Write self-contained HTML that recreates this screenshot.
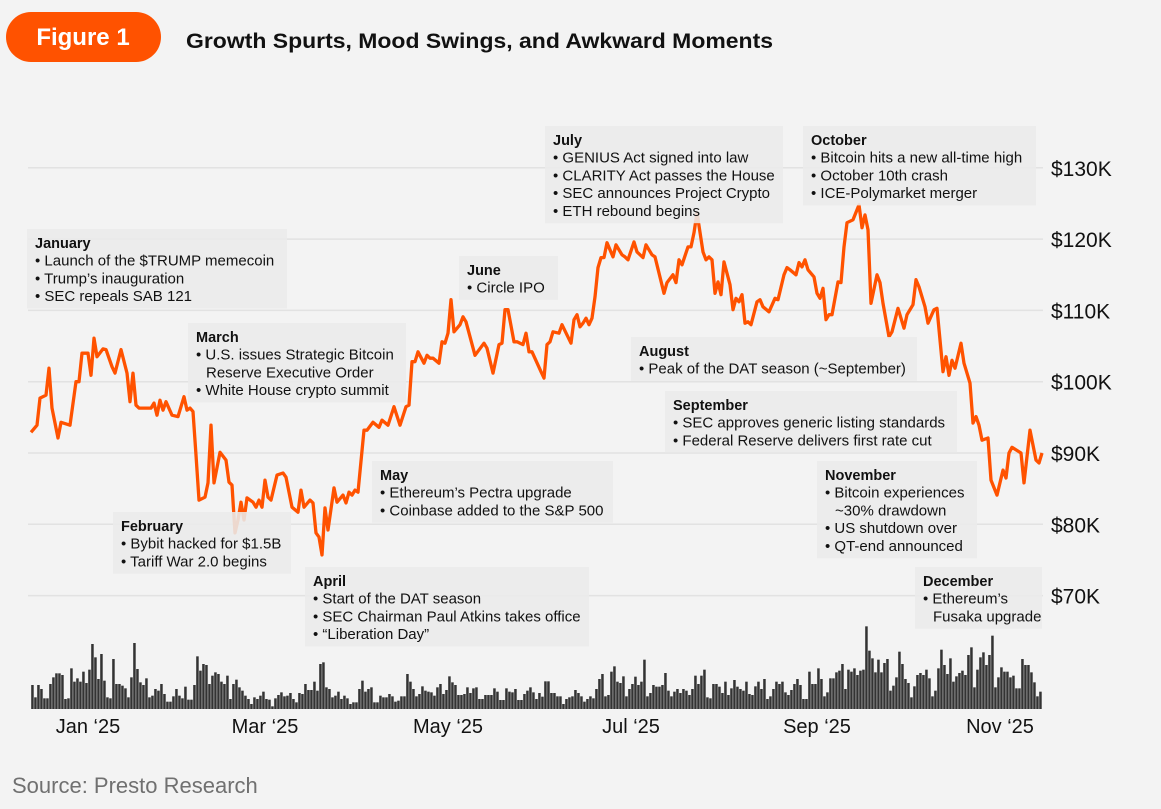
<!DOCTYPE html>
<html><head><meta charset="utf-8">
<style>
html,body{margin:0;padding:0;background:#f3f3f3;}
svg{display:block;font-family:"Liberation Sans",sans-serif;}
</style></head>
<body>
<svg id="chart" width="1161" height="809" viewBox="0 0 1161 809" xmlns="http://www.w3.org/2000/svg">
<rect x="0" y="0" width="1161" height="809" fill="#f3f3f3"/>
<rect x="6" y="12" width="155" height="50" rx="25" fill="#ff5200"/>
<text x="83" y="45" text-anchor="middle" fill="#fff" font-size="24" font-weight="bold">Figure 1</text>
<text x="186" y="48" font-size="21" font-weight="bold" fill="#111" textLength="587" lengthAdjust="spacingAndGlyphs">Growth Spurts, Mood Swings, and Awkward Moments</text>
<g id="grid"></g>
<g id="vol"></g>
<g id="line"></g>
<g id="notes"></g>
<g id="yax"></g>
<g id="xax"></g>
<text x="12" y="793" font-size="22" fill="#707070">Source: Presto Research</text>
</svg>
<script>
const priceDays=[0,2,3,5,6,7,9,10,13,15,16,17,19,20,21,22,24,25,27,28,30,32,33,34,35,36,40,41,42,43,44,45,47,49,51,52,53,54,55,56,58,59,60,61,63,65,66,67,68,69,70,71,72,74,75,76,77,78,79,80,82,84,85,87,89,90,91,93,94,95,96,97,98,99,101,102,104,105,106,107,108,109,111,112,114,116,117,119,121,123,125,126,127,128,129,131,132,133,134,136,137,138,139,140,141,143,144,145,148,151,152,154,156,157,158,159,161,162,164,165,166,167,170,171,172,173,174,176,177,180,181,182,183,184,185,186,187,188,189,190,191,192,194,195,197,198,199,201,202,204,205,207,208,211,212,214,215,216,217,219,220,221,222,224,225,226,227,228,229,230,231,233,234,235,236,237,238,239,240,242,243,244,246,248,249,251,252,253,255,256,257,258,259,261,262,263,264,265,266,267,269,270,271,272,274,276,277,278,279,280,282,283,284,286,287,289,291,292,294,295,296,298,299,301,302,304,305,306,307,308,310,311,313,314,315,316,317,319,320,322,324,325,326,327,330,331,333,335,336,337];
const priceK=[92.9,93.9,97.7,98.1,101.9,96.3,92.1,94.3,93.9,100.0,100.0,104.0,104.0,100.9,106.1,103.5,104.6,104.5,102.1,101.2,104.5,101.2,97.2,101.2,96.7,96.3,96.3,97.0,95.3,97.4,96.0,97.2,95.3,95.1,97.9,96.0,96.3,95.8,89.7,83.4,83.8,85.8,93.9,85.8,90.1,89.0,85.9,85.5,78.8,80.6,83.1,80.6,83.7,83.1,82.4,83.4,82.4,86.2,83.8,83.4,86.9,87.2,86.6,82.4,81.7,84.8,82.4,83.4,83.0,78.8,78.2,75.7,82.3,79.2,85.1,83.1,84.1,83.0,84.5,84.1,84.8,84.5,93.2,93.2,94.3,93.6,94.6,93.9,96.5,93.9,96.5,96.7,102.8,102.8,104.2,102.6,103.7,103.3,103.3,102.6,105.6,105.4,106.8,111.5,107.0,108.0,109.1,108.4,103.7,105.4,104.7,101.2,105.2,105.4,110.1,110.1,105.6,105.6,105.2,106.8,104.2,104.2,101.4,100.5,105.2,105.6,107.0,106.8,108.0,105.4,108.7,109.4,107.7,108.2,108.9,108.0,108.9,111.9,116.0,117.4,117.4,119.5,117.5,119.2,117.8,117.5,117.1,119.6,118.2,117.4,119.2,117.8,117.5,112.4,113.9,115.0,113.9,117.1,116.4,118.9,118.9,120.9,123.7,118.2,117.1,117.5,117.1,112.4,114.0,112.2,116.8,113.6,110.1,111.7,111.2,112.2,108.2,108.4,108.0,111.2,111.5,110.5,109.8,111.7,111.5,115.0,116.0,115.7,115.0,116.7,116.1,117.1,115.7,114.7,112.4,111.7,113.1,108.7,109.4,109.4,114.0,113.9,118.9,122.3,122.7,124.8,121.6,123.4,121.3,111.0,115.0,113.9,111.0,106.3,107.0,110.3,107.5,109.4,110.8,114.3,113.3,110.5,108.2,110.1,110.3,101.4,103.5,100.9,103.0,101.9,105.4,102.6,99.8,94.2,95.1,93.9,91.8,92.1,86.2,84.1,87.6,86.5,90.0,90.8,90.0,85.8,93.2,89.0,88.6,90.0];
const volume=[72,35,72,60,32,32,75,95,107,107,102,30,32,122,82,92,82,112,78,118,195,155,90,165,85,35,32,150,75,75,70,62,35,95,198,120,80,72,92,35,40,60,55,75,45,22,22,38,60,40,32,67,28,28,72,158,115,135,132,75,100,110,105,82,75,100,30,75,88,65,55,40,30,15,35,30,40,52,30,28,8,32,42,50,38,40,48,30,20,48,45,75,57,57,82,55,135,140,65,60,35,40,52,30,40,32,15,20,20,60,85,52,60,65,20,20,40,35,35,45,38,22,25,38,38,105,82,60,38,45,68,55,52,50,40,65,75,45,57,98,80,72,42,42,45,65,48,62,65,30,30,42,42,42,62,52,27,27,62,52,50,60,27,27,45,55,
65,50,30,48,37,83,83,48,48,38,38,15,30,35,38,57,48,38,22,30,38,32,60,90,105,38,42,112,128,82,78,98,38,60,75,97,72,82,148,38,48,72,67,67,72,108,55,38,52,60,48,60,55,42,60,100,75,100,118,35,32,75,75,67,48,82,42,62,87,67,60,55,82,45,42,68,82,60,90,30,38,60,82,75,82,50,42,57,75,90,72,30,30,112,75,75,122,90,38,50,92,92,110,115,135,60,118,112,122,102,115,118,248,175,152,110,148,110,138,150,55,70,95,172,135,90,78,35,68,102,108,102,118,92,38,55,122,178,132,105,152,82,98,108,115,102,162,185,65,118,155,170,132,162,220,65,95,125,112,112,95,100,62,62,150,132,132,110,80,38,52];
const yTicks=[130,120,110,100,90,80,70];
const yTickLabels=["$130K","$120K","$110K","$100K","$90K","$80K","$70K"];
const xTickDays=[0,59,120,181,243,304];
const xTickLabels=["Jan \u201825","Mar \u201825","May \u201825","Jul \u201825","Sep \u201825","Nov \u201825"];

const NS="http://www.w3.org/2000/svg";
function xS(d){return 31+3*d;}
function yS(p){return 453-(p-90)*7.13;}
function vH(v){return v/3;}
function mk(tag,attrs,parent){const e=document.createElementNS(NS,tag);for(const k in attrs)e.setAttribute(k,attrs[k]);parent.appendChild(e);return e;}

const grid=document.getElementById('grid');
yTicks.forEach((t,i)=>{
  const l=mk('line',{x1:28,x2:1043,y1:yS(t),y2:yS(t),stroke:'#e2e2e2','stroke-width':1.5},grid);
  
  
});
const yax=document.getElementById('yax');
yTicks.forEach((t,i)=>{
  const tx=mk('text',{x:1051,y:yS(t)+8,'font-size':21,fill:'#111'},yax);
  tx.textContent=yTickLabels[i];
  
  
});
const xax=document.getElementById('xax');
xTickDays.forEach((d,i)=>{
  const tx=mk('text',{x:xS(d)+57,y:733,'font-size':20,fill:'#111','text-anchor':'middle'},xax);
  tx.textContent=xTickLabels[i];
  
  
});
const vol=document.getElementById('vol');
volume.forEach((v,i)=>{
  const h=vH(v);
  const r=mk('rect',{x:xS(i)+0.2,y:709-h,width:2.5,height:h,fill:'#333333'},vol);
  
  
});
const lg=document.getElementById('line');
let dstr=priceDays.map((d,i)=>(i?'L':'M')+xS(d).toFixed(1)+','+yS(priceK[i]).toFixed(1)).join(' ');
const path=mk('path',{d:dstr,fill:'none',stroke:'#ff5200','stroke-width':3.3,'stroke-linejoin':'round'},lg);



const notes=[
 ["january",27,229,260,"January",["Launch of the $TRUMP memecoin","Trump\u2019s inauguration","SEC repeals SAB 121"]],
 ["march",188,323,218,"March",["U.S. issues Strategic Bitcoin","\u00a0Reserve Executive Order","White House crypto summit"]],
 ["february",113,512,178,"February",["Bybit hacked for $1.5B","Tariff War 2.0 begins"]],
 ["april",305,567,284,"April",["Start of the DAT season","SEC Chairman Paul Atkins takes office","\u201cLiberation Day\u201d"]],
 ["may",372,461,241,"May",["Ethereum\u2019s Pectra upgrade","Coinbase added to the S&P 500"]],
 ["june",459,256,99,"June",["Circle IPO"]],
 ["july",545,126,238,"July",["GENIUS Act signed into law","CLARITY Act passes the House","SEC announces Project Crypto","ETH rebound begins"]],
 ["august",631,337,286,"August",["Peak of the DAT season (~September)"]],
 ["september",665,391,292,"September",["SEC approves generic listing standards","Federal Reserve delivers first rate cut"]],
 ["october",803,126,233,"October",["Bitcoin hits a new all-time high","October 10th crash","ICE-Polymarket merger"]],
 ["november",817,461,160,"November",["Bitcoin experiences","\u00a0~30% drawdown","US shutdown over","QT-end announced"]],
 ["december",915,567,127,"December",["Ethereum\u2019s","\u00a0Fusaka upgrade"]]
];
const ng=document.getElementById('notes');
notes.forEach(n=>{
  const [nm,x,y,w,title,lines]=n;
  const g=mk('g',{},ng);
  
  
  const h=26+lines.length*17.8;
  mk('rect',{x:x,y:y,width:w,height:h,fill:'rgba(234,234,234,0.88)'},g);
  const t=mk('text',{x:x+8,y:y+19,'font-size':14.5,'font-weight':'bold',fill:'#111'},g);
  t.textContent=title;
  lines.forEach((s,i)=>{
    const tt=mk('text',{x:x+8,y:y+36.5+i*17.8,'font-size':15,fill:'#111'},g);
    const indent=s.startsWith('\u00a0');
    tt.textContent=indent?s.slice(1):'\u2022 '+s;
    if(indent)tt.setAttribute('x',x+18);
  });
});
</script>
</body></html>
